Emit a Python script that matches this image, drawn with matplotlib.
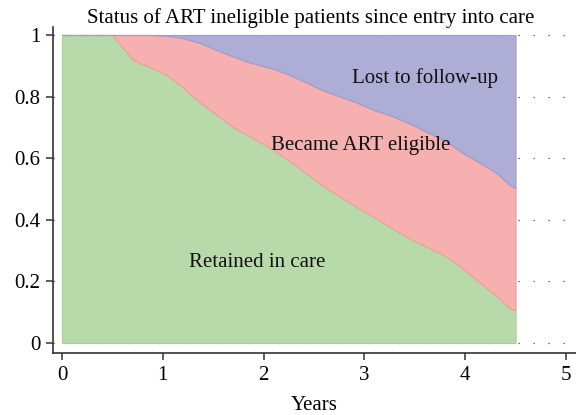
import numpy as np
import matplotlib
matplotlib.use("Agg")
import matplotlib.pyplot as plt

plt.rcParams["font.family"] = ["Liberation Serif", "DejaVu Serif"]

# Years since entry into care and the stacked boundaries
years = [0, 0.5, 0.7, 0.87, 1.04, 1.2, 1.37, 1.54, 1.7, 1.87, 2.1, 2.26, 2.43,
         2.59, 2.76, 2.93, 3.09, 3.25, 3.48, 3.65, 3.82, 3.98, 4.15, 4.32, 4.44, 4.5]
# proportion still retained in care (ART ineligible)
retained = [1, 1, 0.92, 0.896, 0.87, 0.83, 0.78, 0.74, 0.70, 0.67, 0.627, 0.59, 0.55,
            0.51, 0.475, 0.44, 0.41, 0.377, 0.334, 0.308, 0.28, 0.24, 0.195, 0.15, 0.113, 0.107]
# retained + became ART eligible
retained_or_eligible = [1, 1, 1, 1, 0.998, 0.99, 0.974, 0.95, 0.93, 0.91, 0.89, 0.87, 0.845,
                        0.82, 0.80, 0.78, 0.757, 0.74, 0.708, 0.68, 0.653, 0.616, 0.584, 0.55, 0.513, 0.503]
# everything up to 1 is lost to follow-up
total = [1] * len(years)

labels = ["Retained in care", "Became ART eligible", "Lost to follow-up"]
xticks = [0, 1, 2, 3, 4, 5]
yticks = [0, 0.2, 0.4, 0.6, 0.8, 1]
ytick_labels = ["0", "0.2", "0.4", "0.6", "0.8", "1"]

green, pink, blue = "#b8daaa", "#f7b0b0", "#adadd6"
fs = 15

fig = plt.figure(figsize=(5.76, 4.15), dpi=100)
ax = fig.add_axes([53/576, 62/415, 523/576, 326/415])

zero = np.zeros(len(years))
ax.fill_between(years, zero, retained, facecolor=green, edgecolor="#a5d197", lw=0.8, zorder=2)
ax.fill_between(years, retained, retained_or_eligible, facecolor=pink, edgecolor="#f39b9b", lw=0.8, zorder=2)
ax.fill_between(years, retained_or_eligible, total, facecolor=blue, edgecolor="#9d9dd0", lw=0.8, zorder=2)

for y in yticks:
    ax.axhline(y, color="#444444", lw=0.9, ls=(0, (1, 11)), zorder=1)

ax.text(3.6, 0.86, labels[2], fontsize=fs, ha="center", va="center", color="#111111", zorder=3)
ax.text(2.96, 0.64, labels[1], fontsize=fs, ha="center", va="center", color="#111111", zorder=3)
ax.text(1.94, 0.26, labels[0], fontsize=fs, ha="center", va="center", color="#111111", zorder=3)

ax.set_xlim(-0.089, 5.1)
ax.set_ylim(-0.0325, 1.026)
ax.set_xticks(xticks)
ax.set_yticks(yticks)
ax.set_yticklabels(ytick_labels)
ax.tick_params(labelsize=fs, length=5, width=1.1, color="#333333", pad=4)
for side in ["top", "right"]:
    ax.spines[side].set_visible(False)
for side in ["left", "bottom"]:
    ax.spines[side].set_color("#333333")
    ax.spines[side].set_linewidth(1.2)

ax.set_xlabel("Years", fontsize=fs, labelpad=8)
fig.text(311/576, 1 - 18/415, "Status of ART ineligible patients since entry into care",
         fontsize=fs, ha="center", va="center")

fig.savefig("out.png", dpi=100)
